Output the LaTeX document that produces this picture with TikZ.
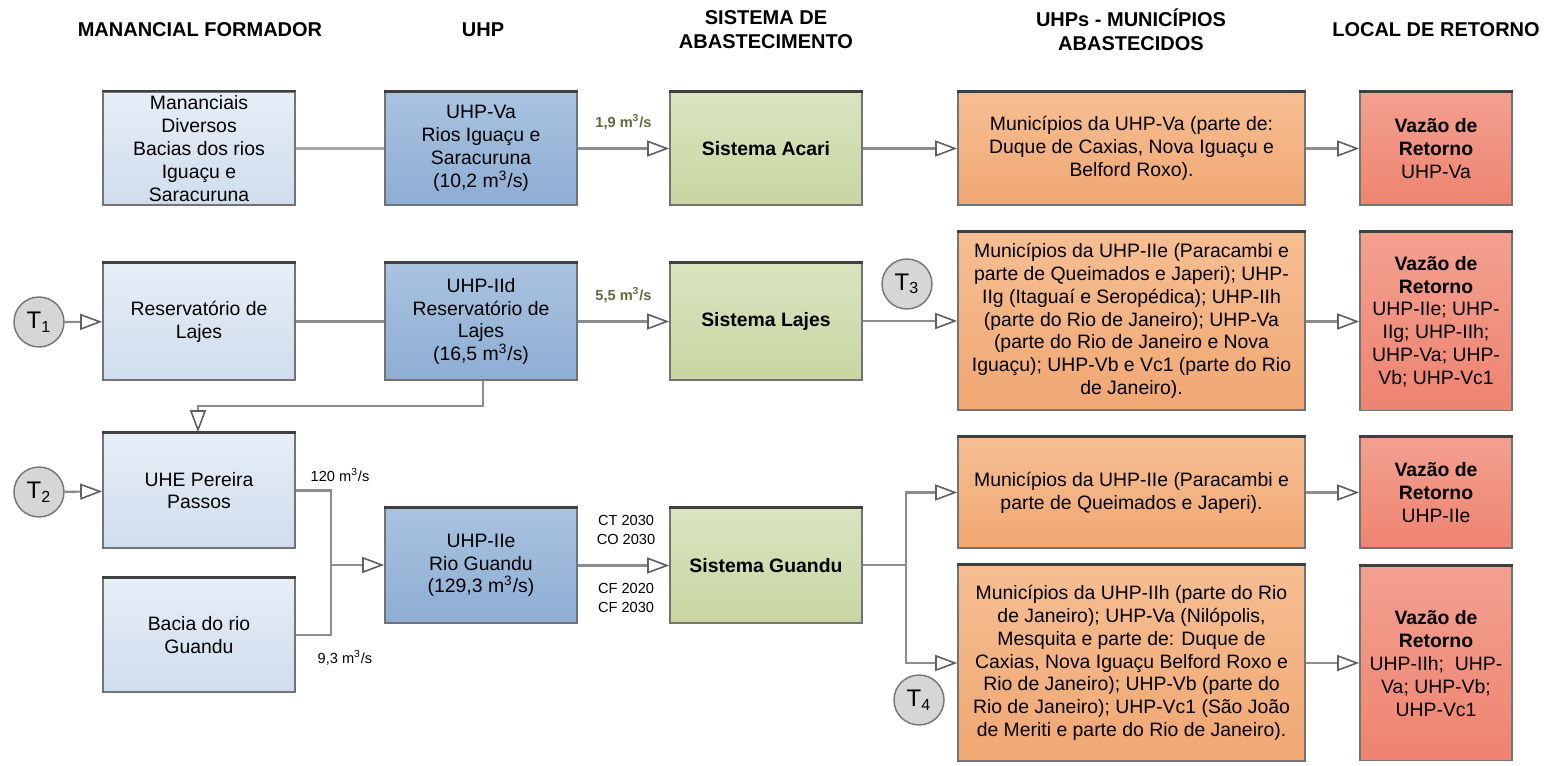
\documentclass[tikz,border=0pt]{standalone}
\usepackage{fontspec}
\setmainfont{Liberation Sans}
\usetikzlibrary{arrows.meta}
\definecolor{linegray}{HTML}{8C8C8C}
\definecolor{tipgray}{HTML}{606060}
\definecolor{olivetxt}{HTML}{5F6B3A}
\definecolor{manT}{HTML}{E6EEF7}\definecolor{manB}{HTML}{CFDDEC}
\definecolor{uhpT}{HTML}{A9C3E0}\definecolor{uhpB}{HTML}{8DADD3}
\definecolor{sisT}{HTML}{D9E4BF}\definecolor{sisB}{HTML}{C8D6A2}
\definecolor{munT}{HTML}{F6BE92}\definecolor{munB}{HTML}{F0A773}
\definecolor{retT}{HTML}{F3A090}\definecolor{retB}{HTML}{EE8370}
\definecolor{circfill}{HTML}{D6D6D6}
\tikzset{
  base/.style={draw=black!55, line width=0.8pt, align=center, inner sep=2pt,
     font=\fontsize{9.7}{11.4}\selectfont},
  manbox/.style={base, top color=manT, bottom color=manB, minimum width=96pt},
  uhpbox/.style={base, top color=uhpT, bottom color=uhpB, minimum width=96pt},
  sisbox/.style={base, top color=sisT, bottom color=sisB, minimum width=96pt},
  munbox/.style={base, top color=munT, bottom color=munB, minimum width=173.5pt},
  retbox/.style={base, top color=retT, bottom color=retB, minimum width=76pt},
  tcirc/.style={circle, draw=black!55, line width=0.7pt, fill=circfill, minimum size=25pt, inner sep=0pt,
     font=\fontsize{12}{12}\selectfont},
  hdr/.style={align=center, font=\bfseries\fontsize{10}{12}\selectfont},
  topedge/.style={draw=black!75, line width=1.4pt},
  flow/.style={draw=linegray, line width=1.1pt},
  arr/.style={flow, -{Triangle[length=11pt, width=8pt, line width=0.8pt, color=tipgray, fill=white]}},
  lbl/.style={font=\fontsize{7.3}{9.5}\selectfont, align=center, inner sep=0pt},
  glbl/.style={font=\bfseries\fontsize{7.3}{9}\selectfont, text=olivetxt, inner sep=0pt}
}
\begin{document}
\begin{tikzpicture}[x=0.5pt, y=-0.5pt]
\useasboundingbox (0,0) rectangle (1545,765);
% headers
\node[hdr] (h1) at (200,30) {MANANCIAL FORMADOR};
\node[hdr] (h2) at (483,30) {UHP};
\node[hdr] (h3) at (766,30) {SISTEMA DE\\ABASTECIMENTO};
\node[hdr] (h4) at (1131,30) {UHPs - MUNICÍPIOS\\ABASTECIDOS};
\node[hdr] (h5) at (1436,30) {LOCAL DE RETORNO};
% column 1
\node[manbox, minimum height=56.5pt] (m1) at (199,148.5) {Mananciais\\Diversos\\Bacias dos rios\\Iguaçu e\\Saracuruna};
\node[manbox, minimum height=58.5pt] (m2) at (199,321.5) {Reservatório de\\Lajes};
\node[manbox, minimum height=57.5pt] (m3) at (199,490.5) {UHE Pereira\\Passos};
\node[manbox, minimum height=57pt] (m4) at (199,635) {Bacia do rio\\Guandu};
% column 2
\node[uhpbox, minimum height=56.5pt] (u1) at (481,148.5) {UHP-Va\\Rios Iguaçu e\\Saracuruna\\(10,2 m\textsuperscript{3}/s)};
\node[uhpbox, minimum height=58.5pt] (u2) at (481,321.5) {UHP-IId\\Reservatório de\\Lajes\\(16,5 m\textsuperscript{3}/s)};
\node[uhpbox, minimum height=57.5pt] (u3) at (481,565.5) {UHP-IIe\\Rio Guandu\\(129,3 m\textsuperscript{3}/s)};
% column 3
\node[sisbox, minimum height=56.5pt, font=\bfseries\fontsize{9.7}{11.4}\selectfont] (s1) at (766,148.5) {Sistema Acari};
\node[sisbox, minimum height=58.5pt, font=\bfseries\fontsize{9.7}{11.4}\selectfont] (s2) at (766,321.5) {Sistema Lajes};
\node[sisbox, minimum height=57.5pt, font=\bfseries\fontsize{9.7}{11.4}\selectfont] (s3) at (766,565.5) {Sistema Guandu};
% column 4
\node[munbox, minimum height=56.5pt] (c1) at (1131.5,148.5) {Municípios da UHP-Va (parte de:\\Duque de Caxias, Nova Iguaçu e\\Belford Roxo).};
\node[munbox, minimum height=89pt] (c2) at (1131.5,321) {Municípios da UHP-IIe (Paracambi e\\parte de Queimados e Japeri); UHP-\\IIg (Itaguaí e Seropédica); UHP-IIh\\(parte do Rio de Janeiro); UHP-Va\\(parte do Rio de Janeiro e Nova\\Iguaçu); UHP-Vb e Vc1 (parte do Rio\\de Janeiro).};
\node[munbox, minimum height=55.5pt] (c3) at (1131.5,492.5) {Municípios da UHP-IIe (Paracambi e\\parte de Queimados e Japeri).};
\node[munbox, minimum height=98pt] (c4) at (1131.5,663) {Municípios da UHP-IIh (parte do Rio\\de Janeiro); UHP-Va (Nilópolis,\\Mesquita e parte de: Duque de\\Caxias, Nova Iguaçu Belford Roxo e\\Rio de Janeiro); UHP-Vb (parte do\\Rio de Janeiro); UHP-Vc1 (São João\\de Meriti e parte do Rio de Janeiro).};
% column 5
\node[retbox, minimum height=56.5pt] (r1) at (1436,148.5) {\textbf{Vazão de}\\\textbf{Retorno}\\UHP-Va};
\node[retbox, minimum height=89pt] (r2) at (1436,321.5) {\textbf{Vazão de}\\\textbf{Retorno}\\UHP-IIe; UHP-\\IIg; UHP-IIh;\\UHP-Va; UHP-\\Vb; UHP-Vc1};
\node[retbox, minimum height=55.5pt] (r3) at (1436,492.5) {\textbf{Vazão de}\\\textbf{Retorno}\\UHP-IIe};
\node[retbox, minimum height=97pt] (r4) at (1436,663.5) {\textbf{Vazão de}\\\textbf{Retorno}\\UHP-IIh;~ UHP-\\Va; UHP-Vb;\\UHP-Vc1};
% darker top edges
\foreach \n in {m1,m2,m3,m4,u1,u2,u3,s1,s2,s3,c1,c2,c3,c4,r1,r2,r3,r4}
  \draw[topedge] (\n.north west) -- (\n.north east);
% T circles
\node[tcirc] (t1) at (39,322) {T\textsubscript{1}};
\node[tcirc] (t2) at (39,492) {T\textsubscript{2}};
\node[tcirc] (t3) at (907,284) {T\textsubscript{3}};
\node[tcirc] (t4) at (919,700) {T\textsubscript{4}};
% coordinates
\coordinate (j1) at (483,406);
\coordinate (j2) at (198,406);
\coordinate (k) at (331,565);
\coordinate (g) at (906,565);
% connectors row 1
\draw[flow, draw=black!35] (m1) -- (u1);
\draw[arr] (u1) -- node[glbl, above=9pt] {1,9 m\textsuperscript{3}/s} (s1);
\draw[arr] (s1) -- (c1);
\draw[arr] (c1) -- (r1);
% row 2
\draw[arr] (t1) -- (m2);
\draw[flow] (m2) -- (u2);
\draw[arr] (u2) -- node[glbl, above=9pt] {5,5 m\textsuperscript{3}/s} (s2);
\draw[arr] (s2.east |- c2.west) -- (c2.west);
\draw[arr] (c2.east |- r2.west) -- (r2.west);
\draw[arr] (u2.south -| j1) -- (j1) -- (j2) -- (m3.north -| j2);
% row 3/4
\draw[arr] (t2) -- (m3);
\draw[flow] (m3.east) -| (k);
\draw[flow] (m4.east) -| (k);
\draw[arr] (k) -- (u3.west |- k);
\node[lbl] (l120) at (340,475) {120 m\textsuperscript{3}/s};
\node[lbl] (l93) at (345,658) {9,3 m\textsuperscript{3}/s};
\draw[arr] (u3) -- (s3);
\node[lbl] (lct) at (626,530) {CT 2030\\CO 2030};
\node[lbl] (lcf) at (626,598) {CF 2020\\CF 2030};
\draw[flow] (s3.east |- g) -- (g);
\draw[arr] (g) |- (c3.west);
\draw[arr] (g) |- (c4.west);
\draw[arr] (c3) -- (r3);
\draw[arr] (c4.east) -- (r4.west |- c4.east);
\end{tikzpicture}
\end{document}
